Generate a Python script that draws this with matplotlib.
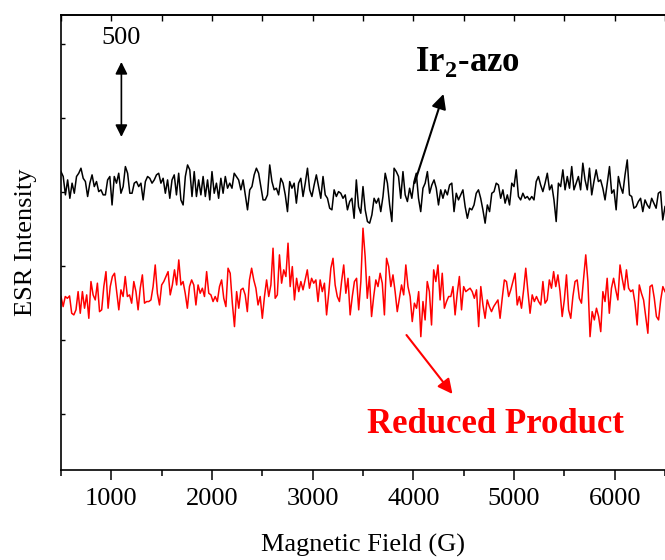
import numpy as np
import matplotlib
matplotlib.use("Agg")
import matplotlib.pyplot as plt
from matplotlib.ticker import MultipleLocator

# ---------------- data ----------------
field_start, field_end = 500, 6500   # G

ir2_azo_signal = [
    461, 428, 304, 405, 281, 383, 315, 428, 450, 484,
    416, 394, 293, 383, 439, 360, 394, 326, 338, 304,
    304, 405, 428, 236, 428, 383, 450, 315, 360, 495,
    450, 315, 315, 383, 394, 360, 383, 270, 394, 428,
    416, 383, 405, 439, 450, 383, 416, 315, 405, 281,
    405, 439, 304, 450, 270, 236, 428, 506, 473, 293,
    461, 293, 405, 304, 428, 293, 405, 270, 461, 315,
    383, 281, 416, 315, 428, 349, 383, 349, 450, 428,
    405, 338, 405, 304, 203, 338, 360, 439,
    484, 450, 360, 270, 270, 304, 506, 394, 338, 349,
    304, 416, 383, 304, 191, 394, 349, 383, 248, 383,
    416, 293, 383, 484, 338, 293, 371, 439, 360, 281,
    428, 304, 281, 214, 203, 338, 293, 326, 315, 281,
    304, 203, 259, 281, 146, 405, 225, 180, 360, 203,
    124, 113, 169, 281, 248, 281, 191, 293, 450, 383,
    236, 124, 484, 461, 428, 281, 461, 304, 259, 349,
    281, 394, 450, 281, 191, 349, 383, 461, 315, 371,
    405, 349, 236, 338, 281, 338, 304, 371, 383,
    191, 315, 270, 304, 338, 225, 146, 214, 203, 236,
    315, 338, 281, 203, 113, 236, 191, 315, 326, 383,
    371, 281, 338, 248, 304, 236, 383, 360, 473, 293,
    270, 315, 281, 293, 270, 293, 270, 394, 428, 371,
    326, 383, 450, 338, 371, 270, 124, 383, 360, 473,
    338, 428, 349, 495, 338, 383, 428, 338, 518, 405,
    338, 484, 304, 394, 473, 394, 405, 349, 270, 383,
    495, 315, 338, 203, 428, 360, 315, 439, 540, 304,
    293, 214, 225, 259, 281, 191, 270, 236, 214, 281,
    248, 214, 315, 326, 135, 225,
]

reduced_signal = [
    158, 90, 158, 146, 162, 45, 34, 68, 191, 45,
    191, 79, 169, 11, 259, 169, 135, 248, 56, 68,
    225, 326, 79, 225, 293, 315, 191, 68, 203, 158,
    293, 158, 169, 113, 259, 191, 68, 214, 304, 113,
    124, 124, 135, 225, 371, 180, 101, 236, 259, 293,
    326, 169, 236, 338, 236, 405, 236, 259, 180, 79,
    225, 270, 236, 101, 236, 180, 214, 158, 326, 180,
    169, 124, 158, 124, 225, 270, 146, 90, 349, 315,
    113, -45, 191, 79, 203, 214, 169, 56, 270,
    349, 270, 214, 101, 158, 11, 158, 270, 158, 236,
    484, 146, 169, 439, 248, 338, 293, 518, 225, 360,
    135, 281, 191, 259, 203, 270, 338, 214, 281, 248,
    270, 124, 270, 191, 248, 34, 180, 349, 416, 236,
    158, 124, 259, 371, 180, 281, 34, 158, 259, 281,
    68, 259, 619, 428, 146, 293, 23, 158, 270, 225,
    315, 248, 34, 416, 360, 225, 304, 191, 56, 146,
    236, 169, 371, 225, 158, -11, 113, 79, 191, -113,
    124, 0, 259, 191, -34, 338, 259, 371, 135, 315,
    79, 124, 158,
    158, 225, 34, 180, 293, 68, 225, 191, 203, 214,
    191, 146, 203, -45, 225, 101, 11, 135, 90, 56,
    90, 113, 135, 11, 146, 270, 259, 158, 203, 259,
    315, 101, 158, 79, 203, 349, 191, 45, 169, 124,
    158, 124, 101, 259, 113, 135, 270, 214, 326, 225,
    304, 191, 23, 135, 304, 68, 11, 158, 259, 270,
    146, 113, 281, 439, 259, -113, 56, 0, 79, 23,
    -79, 191, 124, 281, 45, 214, 281, 203, 135, 371,
    281, 203, 338, 214, 191, 203, 113, -34, 236, 180,
    135, 23, -90, 225, 236, 146, 23, 0, 135, 225,
    191,
]

# vertical offsets of the stacked spectra
IR2_OFFSET = 1175
RED_OFFSET = 635
xticks_major = [1000, 2000, 3000, 4000, 5000, 6000]

# ---------------- style ----------------
plt.rcParams["font.family"] = ["Liberation Serif", "DejaVu Serif"]
plt.rcParams["mathtext.fontset"] = "custom"
plt.rcParams["mathtext.rm"] = "Liberation Serif"
plt.rcParams["mathtext.bf"] = "Liberation Serif:bold"

fig = plt.figure(figsize=(6.65, 5.6), dpi=100)
ax = fig.add_axes([0.0917, 0.1607, 0.9083, 0.8125])

f1 = np.linspace(field_start, field_end, len(ir2_azo_signal))
f2 = np.linspace(field_start, field_end, len(reduced_signal))
ax.plot(f1, np.array(ir2_azo_signal) + IR2_OFFSET, color="black", lw=1.1)
ax.plot(f2, np.array(reduced_signal) + RED_OFFSET, color="#ff0000", lw=1.1)

ax.set_xlim(500, 6500)
ax.set_ylim(-378, 2693)

ax.spines["right"].set_visible(False)
for s in ("left", "bottom", "top"):
    ax.spines[s].set_linewidth(1.2)

ax.set_xticks(xticks_major)
ax.xaxis.set_minor_locator(MultipleLocator(500))
ax.tick_params(axis="x", which="major", direction="out", length=7, width=1.1,
               labelsize=19, pad=6, top=False)
ax.tick_params(axis="x", which="minor", direction="out", length=4, width=1.1, top=False)

ax.yaxis.set_major_locator(MultipleLocator(500))
ax.tick_params(axis="y", which="major", direction="in", length=3, width=1.0,
               labelleft=False, right=False)

secax = ax.secondary_xaxis("top")
secax.set_xticks(xticks_major)
secax.xaxis.set_minor_locator(MultipleLocator(500))
secax.tick_params(which="both", direction="in", length=4, width=1.0, labeltop=False)
secax.spines["top"].set_linewidth(1.2)

ax.set_xlabel("Magnetic Field (G)", fontsize=19, labelpad=17)
ax.set_ylabel("ESR Intensity", fontsize=19, labelpad=17)

# scale bar
ax.annotate("", xy=(1100, 2376), xytext=(1100, 1870),
            arrowprops=dict(arrowstyle="<|-|>", color="black", lw=1.2,
                            mutation_scale=18, shrinkA=0, shrinkB=0))
ax.text(1100, 2540, "500", ha="center", va="center", fontsize=19)

# labels with arrows
ax.text(4536, 2376, r"Ir$_\mathbf{2}$-azo", ha="center", va="center",
        fontsize=25, fontweight="bold", color="black")
ax.annotate("", xy=(4300, 2160), xytext=(4012, 1559),
            arrowprops=dict(arrowstyle="-|>", color="black", lw=1.5,
                            mutation_scale=22, shrinkA=0, shrinkB=0))

ax.text(4816, -74, "Reduced Product", ha="center", va="center",
        fontsize=25, fontweight="bold", color="#ff0000")
ax.annotate("", xy=(4389, 135), xytext=(3932, 533),
            arrowprops=dict(arrowstyle="-|>", color="#ff0000", lw=1.5,
                            mutation_scale=22, shrinkA=0, shrinkB=0))

fig.savefig("out.png", dpi=100)
